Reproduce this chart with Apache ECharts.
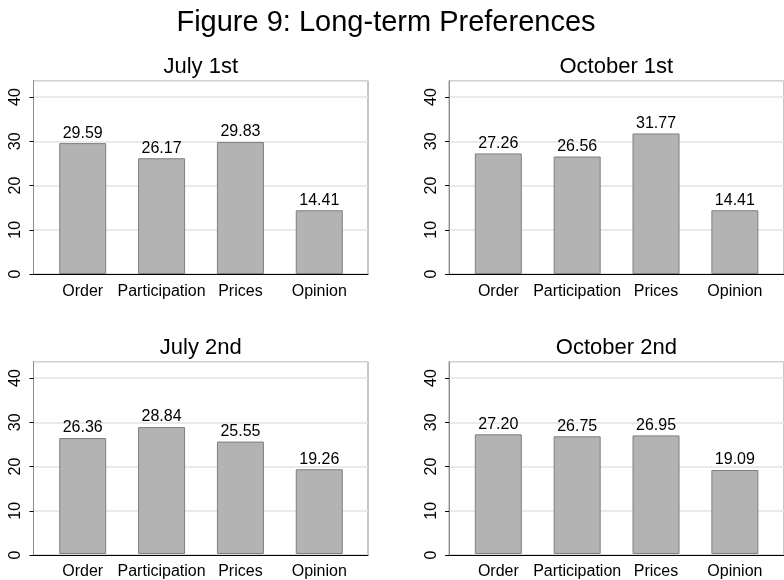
<!DOCTYPE html>
<html>
<head>
<meta charset="utf-8">
<script src="https://cdn.jsdelivr.net/npm/echarts@6/dist/echarts.min.js"></script>
<style>html,body{margin:0;padding:0;background:#fff}#c{width:784px;height:580px}</style>
</head>
<body>
<div id="c"></div>
<script>
const categories = ['Order', 'Participation', 'Prices', 'Opinion'];
const july1 = [29.59, 26.17, 29.83, 14.41];
const october1 = [27.26, 26.56, 31.77, 14.41];
const july2 = [26.36, 28.84, 25.55, 19.26];
const october2 = [27.20, 26.75, 26.95, 19.09];
const yTicks = [0, 10, 20, 30, 40];
const panelTitles = ['July 1st', 'October 1st', 'July 2nd', 'October 2nd'];
const mainTitle = 'Figure 9: Long-term Preferences';

const panelData = [july1, october1, july2, october2];
const FONT = '"Liberation Sans", Arial, sans-serif';
const Y_MAX = 43.7;

const layout = [
  { left: 33.5, top: 80.7, width: 334.5 },
  { left: 449.1, top: 80.7, width: 336 },
  { left: 33.5, top: 361.7, width: 334.5 },
  { left: 449.1, top: 361.7, width: 336 }
];
const PH = 193.3;

const grid = [], xAxis = [], yAxis = [], series = [], title = [];
title.push({
  text: mainTitle, left: 386, top: 8, textAlign: 'center', padding: 0,
  textStyle: { fontFamily: FONT, fontSize: 29, fontWeight: 'normal', color: '#000' }
});

layout.forEach((p, i) => {
  const fi = 2 * i, bi = 2 * i + 1;
  grid.push({ left: p.left, top: p.top, width: p.width, height: PH, show: true,
    borderColor: '#8c8c8c', borderWidth: 1 });
  grid.push({ left: p.left + 9.8, top: p.top, width: 315.4, height: PH });
  xAxis.push({ gridIndex: fi, type: 'value', min: 0, max: 1, z: 6,
    axisLine: { show: true, lineStyle: { color: '#000', width: 1 } },
    axisTick: { show: false }, axisLabel: { show: false }, splitLine: { show: false } });
  xAxis.push({ gridIndex: bi, type: 'category', data: categories, boundaryGap: true,
    axisLine: { show: false }, axisTick: { show: false },
    axisLabel: { interval: 0, fontFamily: FONT, fontSize: 16, color: '#000', margin: 10 } });
  yAxis.push({ gridIndex: bi, type: 'value', min: 0, max: Y_MAX, show: false });
});
// gridline axes (below the bars)
layout.forEach((p, i) => {
  yAxis.push({ gridIndex: 2 * i, type: 'value', position: 'left', min: 0, max: Y_MAX, interval: 10,
    axisLine: { show: false }, axisTick: { show: false }, axisLabel: { show: false },
    splitLine: { show: true, lineStyle: { color: '#e3e3e3', width: 1.5 } } });
});
// tick / label axes (drawn on top)
layout.forEach((p, i) => {
  yAxis.push({ gridIndex: 2 * i, type: 'value', position: 'left', min: 0, max: Y_MAX, interval: 10, z: 7,
    axisLine: { show: true, onZero: false, lineStyle: { color: '#8c8c8c', width: 1 } },
    axisTick: { show: true, inside: false, length: 4, customValues: yTicks,
      lineStyle: { color: '#000', width: 1 } },
    axisLabel: { rotate: 90, customValues: yTicks,
      fontFamily: FONT, fontSize: 16, color: '#000', margin: 10 },
    splitLine: { show: false } });
});
layout.forEach((p, i) => {
  series.push({
    type: 'bar', xAxisIndex: 2 * i + 1, yAxisIndex: i, data: panelData[i], barWidth: 47, z: 3,
    itemStyle: { color: '#b3b3b3', borderColor: '#7f7f7f', borderWidth: 1 },
    label: { show: true, position: 'top', distance: 2, fontFamily: FONT, fontSize: 16, color: '#000',
      formatter: (d) => d.value.toFixed(2) }
  });
  title.push({
    text: panelTitles[i], left: p.left + 334.5 / 2, top: p.top - 25, textAlign: 'center', padding: 0,
    textStyle: { fontFamily: FONT, fontSize: 22, fontWeight: 'normal', color: '#000' }
  });
});

const chart = echarts.init(document.getElementById('c'), null, { renderer: 'canvas' });
chart.setOption({ animation: false, backgroundColor: '#fff', title, grid, xAxis, yAxis, series });
</script>
</body>
</html>
